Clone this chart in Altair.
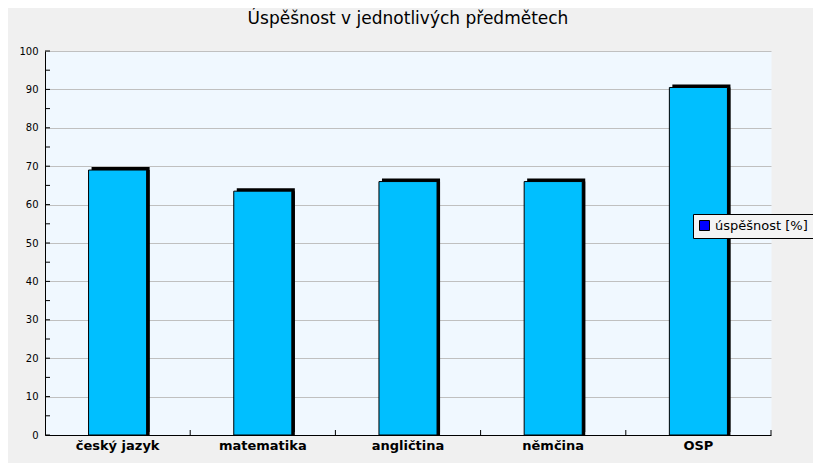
import altair as alt
import pandas as pd

subjects = ["český jazyk", "matematika", "angličtina", "němčina", "OSP"]
values = [69.0, 63.5, 66.0, 66.0, 90.5]
series_name = "úspěšnost [%]"
y_labels = [0, 10, 20, 30, 40, 50, 60, 70, 80, 90, 100]
y_ticks = [0, 5, 10, 15, 20, 25, 30, 35, 40, 45, 50, 55, 60, 65, 70, 75, 80, 85, 90, 95, 100]

df = pd.DataFrame({"subject": subjects, "value": values, "series": [series_name] * len(subjects)})
ticks_df = pd.DataFrame({"value": y_ticks})

W, H = 726, 384

x_axis = alt.Axis(title=None, labelAngle=0, labelFont="DejaVu Sans", labelFontWeight="bold",
                  labelFontSize=13, labelColor="black", labelPadding=4, ticks=False,
                  domainColor="black", domainWidth=1, grid=False)
x = alt.X("subject:N", sort=subjects, scale=alt.Scale(paddingInner=0, paddingOuter=0), axis=x_axis)
y = alt.Y("value:Q", scale=alt.Scale(domain=[0, 100], nice=False),
          axis=alt.Axis(title=None, values=y_labels, labelFont="DejaVu Sans", labelFontSize=10,
                        labelColor="black", labelPadding=7, ticks=False, domainColor="black",
                        domainWidth=1, grid=True, gridColor="#c0c0c0", gridWidth=1))

shadow_up = alt.Chart(df).mark_bar(color="black", width=alt.RelativeBandSize(0.4),
                                   xOffset=3, yOffset=-3).encode(x=x, y=y)
shadow_side = alt.Chart(df).mark_bar(color="black", width=alt.RelativeBandSize(0.4),
                                     xOffset=3).encode(x=x, y=y)
bars = alt.Chart(df).mark_bar(color="#00bfff", stroke="black", strokeWidth=1,
                              width=alt.RelativeBandSize(0.4)).encode(x=x, y=y)
legend_layer = alt.Chart(df).mark_square(opacity=0, size=1).encode(
    x=x, y=y,
    color=alt.Color("series:N", scale=alt.Scale(domain=[series_name], range=["#0000ff"]),
                    legend=alt.Legend(title=None, orient="none", legendX=648, legendY=163,
                                      symbolType="square", symbolSize=100, symbolOpacity=1,
                                      symbolStrokeColor="black", symbolStrokeWidth=1,
                                      symbolFillColor="#0000ff", labelFont="DejaVu Sans",
                                      labelFontSize=13, labelColor="black", fillColor="#f4f4f4",
                                      strokeColor="black", padding=5)))
y_tick_rules = alt.Chart(ticks_df).mark_rule(color="black", strokeWidth=1).encode(
    y=y, x=alt.value(0), x2=alt.value(5))
x_tick_rules = alt.Chart(df).mark_rule(color="black", strokeWidth=1).encode(
    x=alt.X("subject:N", sort=subjects, bandPosition=1, axis=x_axis),
    y=alt.value(H - 5), y2=alt.value(H))

chart = alt.layer(shadow_up, shadow_side, bars, y_tick_rules, x_tick_rules, legend_layer).properties(
    width=W, height=H,
    title=alt.TitleParams("Úspěšnost v jednotlivých předmětech", font="DejaVu Sans", fontSize=17,
                          fontWeight="normal", color="black", frame="group", anchor="middle",
                          baseline="alphabetic", offset=5),
    padding={"left": 37, "top": 43, "right": 42, "bottom": 28},
    autosize=alt.AutoSizeParams(type="none"),
    background="#f0f0f0",
).configure_view(fill="#f0f8ff", stroke="transparent")

chart.save("out.html", embed_options={"renderer": "svg", "actions": False})
